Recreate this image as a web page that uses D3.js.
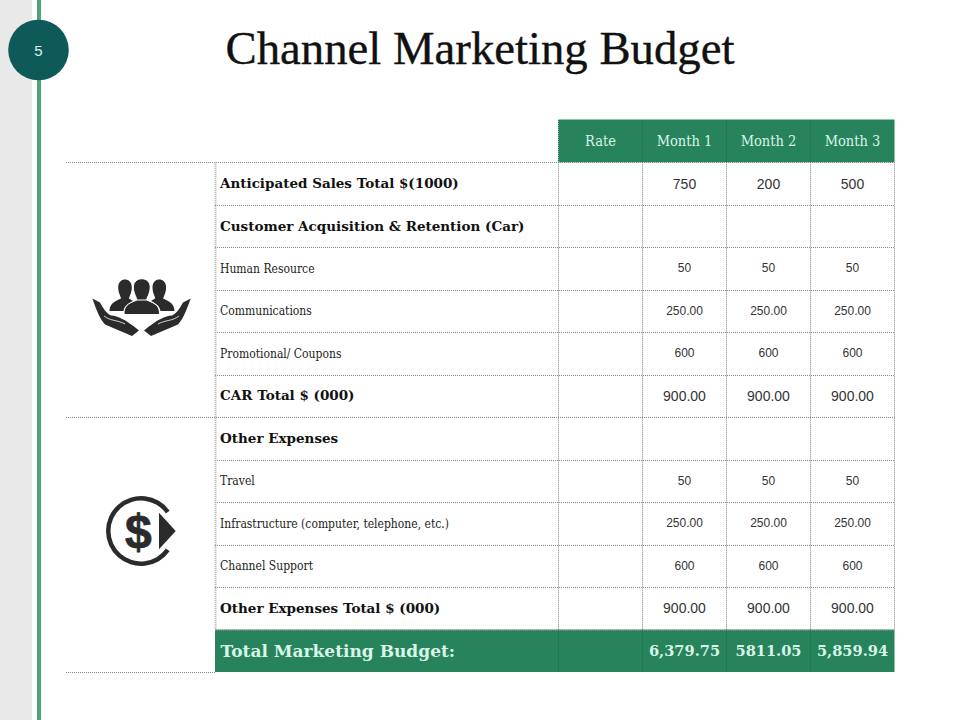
<!DOCTYPE html>
<html><head><meta charset="utf-8">
<script src="https://cdn.jsdelivr.net/npm/d3@7"></script>
<style>html,body{margin:0;padding:0;background:#fff}svg{display:block}</style>
</head><body><svg id="c" width="960" height="720"></svg>
<script>
const pageNumber = "5";
const chartTitle = "Channel Marketing Budget";
const columns = ["Rate", "Month 1", "Month 2", "Month 3"];
const rowLabels = ["Anticipated Sales Total $(1000)", "Customer Acquisition & Retention (Car)", "Human Resource", "Communications", "Promotional/ Coupons", "CAR Total $ (000)", "Other Expenses", "Travel", "Infrastructure (computer, telephone, etc.)", "Channel Support", "Other Expenses Total $ (000)", "Total Marketing Budget:"];
const rowKinds = ["bold", "bold", "plain", "plain", "plain", "bold", "bold", "plain", "plain", "plain", "bold", "total"];
const numberKinds = ["large", "", "small", "small", "small", "large", "", "small", "small", "small", "large", "total"];
const month1 = ["750", "", "50", "250.00", "600", "900.00", "", "50", "250.00", "600", "900.00", "6,379.75"];
const month2 = ["200", "", "50", "250.00", "600", "900.00", "", "50", "250.00", "600", "900.00", "5811.05"];
const month3 = ["500", "", "50", "250.00", "600", "900.00", "", "50", "250.00", "600", "900.00", "5,859.94"];
const groupBreaks = [0, 6, 12];

const GREEN = "#26835c", COND = "'DejaVu Serif Condensed','DejaVu Serif',serif", WIDE = "'DejaVu Serif',serif", SANS = "'Liberation Sans',Arial,sans-serif";
const svg = d3.select("#c");
const y = d3.scaleBand().domain(d3.range(rowLabels.length)).range([162.3, 672]);
const x = d3.scaleBand().domain(columns).range([558.5, 894.5]);
const rowEdge = i => i < rowLabels.length ? y(i) : y.range()[1];

// page furniture
svg.append("rect").attr("x", 0).attr("y", 0).attr("width", 32).attr("height", 720).attr("fill", "#e9e9e9");
svg.append("rect").attr("x", 37).attr("y", 0).attr("width", 4).attr("height", 720).attr("fill", "#4fa574");
svg.append("circle").attr("cx", 38.5).attr("cy", 50).attr("r", 30.3).attr("fill", "#0e5a59");
svg.append("text").attr("x", 38.5).attr("y", 55.5).attr("text-anchor", "middle").attr("font-family", SANS).attr("font-size", 15).attr("fill", "#d8f3ec").text(pageNumber);
svg.append("text").attr("x", 480).attr("y", 64).attr("text-anchor", "middle").attr("font-family", "'Liberation Serif',serif").attr("font-size", 46).attr("textLength", 509).attr("lengthAdjust", "spacingAndGlyphs").attr("fill", "#111").attr("stroke", "#111").attr("stroke-width", 0.35).text(chartTitle);

// green bands
svg.append("rect").attr("x", x.range()[0]).attr("y", 119.5).attr("width", x.range()[1] - x.range()[0]).attr("height", y.range()[0] - 119.5).attr("fill", GREEN);
svg.append("rect").attr("x", 215).attr("y", y(11)).attr("width", x.range()[1] - 215).attr("height", y.bandwidth()).attr("fill", GREEN);

// grid
const dotted = (x1, y1, x2, y2, color, w) => svg.append("line").attr("x1", x1).attr("y1", y1).attr("x2", x2).attr("y2", y2).attr("stroke", color).attr("stroke-width", w).attr("stroke-dasharray", "1 1");
d3.range(rowLabels.length + 1).forEach(i => {
  const major = groupBreaks.includes(i);
  dotted(major ? 66 : 215, Math.round(rowEdge(i)) + 0.5, i === 12 ? 215 : x.range()[1], Math.round(rowEdge(i)) + 0.5, "#888", 1);
});
dotted(215.5, y.range()[0], 215.5, y(11), "#aaa", 2);
columns.forEach(c => {
  dotted(x(c), y.range()[0], x(c), y(11), "#888", 1);
  dotted(x(c), 120, x(c), y.range()[0], "#1c6b4a", 1);
  dotted(x(c), y(11), x(c), 672, "#1c6b4a", 1);
});
dotted(x.range()[1], y.range()[0], x.range()[1], y(11), "#888", 1);

// header
svg.append("g").selectAll("text").data(columns).join("text")
  .attr("x", c => x(c) + x.bandwidth() / 2).attr("y", 146)
  .attr("text-anchor", "middle").attr("font-family", COND).attr("font-size", 14.5).attr("fill", "#d9f5e6").text(d => d);

// row labels
const labelStyle = {bold: {s: 13.5, w: 700, f: "#111", fam: WIDE}, plain: {s: 12, w: 400, f: "#222", fam: COND}, total: {s: 17, w: 700, f: "#d9f5e6", fam: WIDE}};
svg.append("g").selectAll("text").data(rowLabels).join("text")
  .attr("x", (d, i) => rowKinds[i] === "total" ? 220.5 : 220)
  .attr("y", (d, i) => y(i) + y.bandwidth() / 2 + (rowKinds[i] === "total" ? 6 : 4.5))
  .attr("font-family", (d, i) => labelStyle[rowKinds[i]].fam)
  .attr("font-size", (d, i) => labelStyle[rowKinds[i]].s)
  .attr("font-weight", (d, i) => labelStyle[rowKinds[i]].w)
  .attr("fill", (d, i) => labelStyle[rowKinds[i]].f)
  .text(d => d);

// values
const numStyle = {large: {s: 14, f: "#333", fam: SANS, w: 400, dy: 5}, small: {s: 12, f: "#333", fam: SANS, w: 400, dy: 4}, total: {s: 14.6, f: "#d9f5e6", fam: WIDE, w: 700, dy: 5}, "": {s: 12, f: "#333", fam: SANS, w: 400, dy: 4}};
[["Month 1", month1], ["Month 2", month2], ["Month 3", month3]].forEach(([col, vals]) => {
  svg.append("g").selectAll("text").data(vals).join("text")
    .attr("x", x(col) + x.bandwidth() / 2)
    .attr("y", (d, i) => y(i) + y.bandwidth() / 2 + numStyle[numberKinds[i]].dy)
    .attr("text-anchor", "middle")
    .attr("font-family", (d, i) => numStyle[numberKinds[i]].fam)
    .attr("font-size", (d, i) => numStyle[numberKinds[i]].s)
    .attr("font-weight", (d, i) => numStyle[numberKinds[i]].w)
    .attr("fill", (d, i) => numStyle[numberKinds[i]].f)
    .text(d => d);
});

// people-in-hands icon
const ICON = "#2b2b2b";
const people = svg.append("g").attr("fill", ICON);
const personHead = (cx, rx, top, bottom) => `M${cx - rx} ${top + (bottom - top) * 0.42} C${cx - rx} ${top - 1} ${cx + rx} ${top - 1} ${cx + rx} ${top + (bottom - top) * 0.42} C${cx + rx} ${top + (bottom - top) * 0.7} ${cx + rx * 0.55} ${bottom - 3} ${cx + rx * 0.55} ${bottom} L${cx - rx * 0.55} ${bottom} C${cx - rx * 0.55} ${bottom - 3} ${cx - rx} ${top + (bottom - top) * 0.7} ${cx - rx} ${top + (bottom - top) * 0.42} Z`;
people.append("path").attr("d", personHead(125, 6.8, 278, 300));
people.append("path").attr("d", personHead(159.300, 6.8, 278, 300));
people.append("path").attr("d", "M109.500 311 C110 304 113 302 121 298.500 L129 298.500 L133 301 C127 304 124.500 306 123.500 311 Z");
people.append("path").attr("d", "M174.500 311 C174 304 171 302 163 298.500 L155 298.500 L151 301 C157 304 159.500 306 160.500 311 Z");
people.append("path").attr("d", personHead(141.800, 8.4, 277, 301)).attr("stroke", "#fff").attr("stroke-width", 1);
people.append("path").attr("d", "M124 314.500 C124 306 127 304 137 300 L146.500 300 C156.500 304 159.500 306 159.500 314.500 Z").attr("stroke", "#fff").attr("stroke-width", 1);
const hand = "M92.300 298.500 L100 302.500 C103 308 106 313 111 315.500 C118 316 125 319 139 330.500 L132 336 L105 324.500 C99 318 95.500 307 92.300 298.500 Z";
people.append("path").attr("d", hand);
people.append("path").attr("d", hand).attr("transform", "translate(283,0) scale(-1,1)");
people.append("path").attr("d", "M104 316 C110 321 118 320 125 324").attr("fill", "none").attr("stroke", "#fff").attr("stroke-width", 0.8);
people.append("path").attr("d", "M179 316 C173 321 165 320 158 324").attr("fill", "none").attr("stroke", "#fff").attr("stroke-width", 0.8);

// dollar icon
const dollar = svg.append("g").attr("transform", "translate(141,531)").attr("fill", ICON);
dollar.append("path").attr("d", d3.arc().innerRadius(30.5).outerRadius(35).startAngle(Math.PI * 0.696).endAngle(Math.PI * 2.304)());
dollar.append("text").attr("x", -2.700).attr("y", 17).attr("text-anchor", "middle").attr("font-family", SANS).attr("font-weight", 700).attr("font-size", 48).attr("stroke", ICON).attr("stroke-width", 0.8).text("$");
dollar.append("path").attr("d", "M18 -18.300 L34.700 0 L18 18.300 Z");
</script></body></html>
